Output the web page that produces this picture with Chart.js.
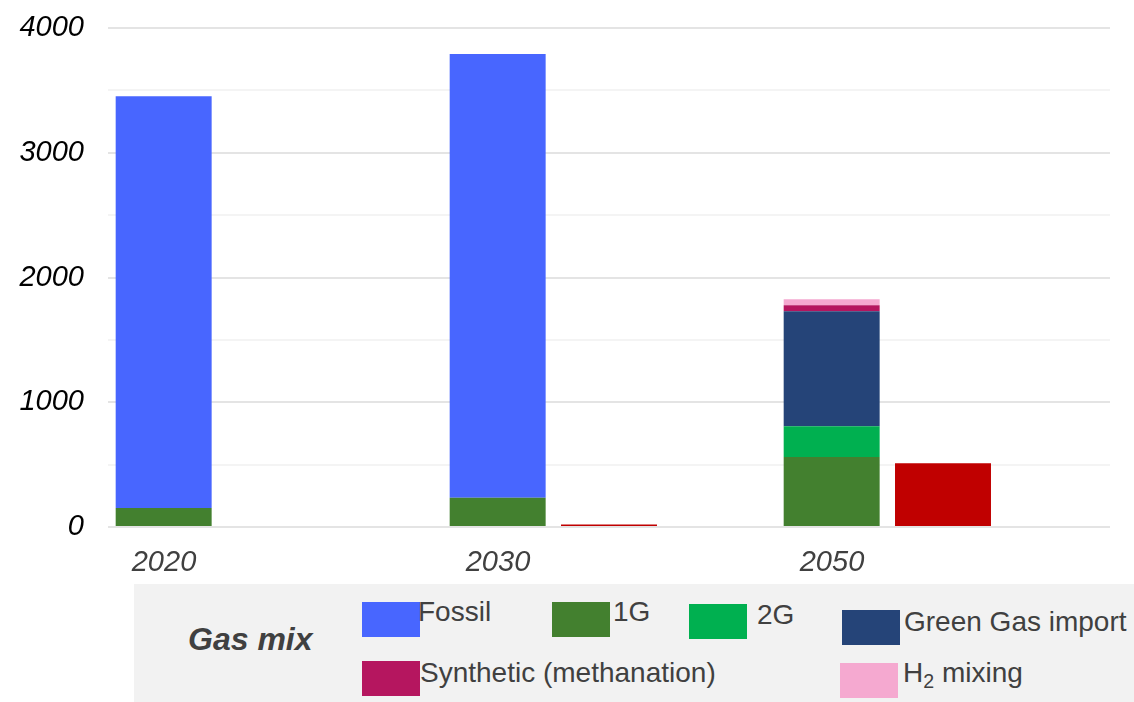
<!DOCTYPE html>
<html>
<head>
<meta charset="utf-8">
<script src="https://cdn.jsdelivr.net/npm/chart.js@4/dist/chart.umd.min.js"></script>
<style>
  html, body { margin: 0; padding: 0; background: #ffffff; }
  #wrap { position: relative; width: 1134px; height: 702px; overflow: hidden; font-family: "Liberation Sans", Arial, sans-serif; }
  #chart { position: absolute; left: 0; top: 0; }
  #legend { position: absolute; left: 134px; top: 584px; width: 1000px; height: 118px; background: #f2f2f2; }
  .sw { position: absolute; width: 58px; height: 35px; }
  .lb { position: absolute; font-size: 28px; line-height: 28px; color: #404040; white-space: nowrap; }
  .title { position: absolute; font-size: 32px; line-height: 32px; font-weight: bold; font-style: italic; color: #404040; white-space: nowrap; }
  sub { font-size: 0.7em; vertical-align: -0.3em; line-height: 0; }
</style>
</head>
<body>
<div id="wrap">
  <canvas id="chart" width="1134" height="702"></canvas>
  <div id="legend"></div>
</div>
<script>
// Years on the category axis
const categories = ['2020', '2030', '2050'];

// Gas mix components (TWh)
const firstGen   = [152, 235, 561];
const secondGen  = [0, 0, 246];
const greenImport = [0, 0, 922];
const synthetic  = [0, 0, 48];
const h2Mixing   = [0, 0, 48];
const fossil     = [3300, 3557, 0];

// Separate series shown beside the gas mix
const hydrogen   = [0, 20, 511];

// Y-axis range
const yMin = 0, yMax = 4000, yStep = 500, yLabelEvery = 1000;

const colors = {
  fossil: '#4866ff',
  firstGen: '#43802f',
  secondGen: '#00b050',
  greenImport: '#254478',
  synthetic: '#b5165f',
  h2Mixing: '#f5a9d0',
  hydrogen: '#c00000'
};

const fontFamily = '"Liberation Sans", Arial, sans-serif';

const mix = (label, data, color) => ({ label, data, backgroundColor: color, stack: 'mix', borderWidth: 0 });

const chart = new Chart(document.getElementById('chart'), {
  type: 'bar',
  data: {
    labels: categories,
    datasets: [
      mix('1G', firstGen, colors.firstGen),
      mix('2G', secondGen, colors.secondGen),
      mix('Green Gas import', greenImport, colors.greenImport),
      mix('Synthetic (methanation)', synthetic, colors.synthetic),
      mix('H2 mixing', h2Mixing, colors.h2Mixing),
      mix('Fossil', fossil, colors.fossil),
      { label: 'Hydrogen', data: hydrogen, backgroundColor: colors.hydrogen, stack: 'h2', borderWidth: 0 },
      // empty third slot in each year group
      { label: '', data: categories.map(() => 0), backgroundColor: 'rgba(0,0,0,0)', stack: 'spare', borderWidth: 0 }
    ]
  },
  options: {
    responsive: false,
    animation: false,
    categoryPercentage: 1,
    barPercentage: 0.862,
    layout: { padding: { top: 28, right: 24, left: 0, bottom: 0 } },
    plugins: { legend: { display: false }, tooltip: { enabled: false } },
    scales: {
      x: {
        stacked: true,
        grid: { display: false, drawTicks: false },
        border: { display: false },
        ticks: {
          color: '#404040',
          font: { family: fontFamily, size: 29, style: 'italic' },
          labelOffset: -111,
          padding: 19,
          maxRotation: 0
        },
        afterFit: s => { s.height = 175; }
      },
      y: {
        stacked: true,
        min: yMin,
        max: yMax,
        border: { display: false },
        grid: {
          drawTicks: false,
          lineWidth: 2,
          color: ctx => (ctx.tick && ctx.tick.value % yLabelEvery === 0) ? '#e4e4e4' : '#f4f4f4'
        },
        ticks: {
          stepSize: yStep,
          autoSkip: false,
          padding: 24,
          color: '#000000',
          font: { family: fontFamily, size: 29, style: 'italic' },
          callback: v => (v % yLabelEvery === 0 ? String(v) : '')
        },
        afterFit: s => { s.width = 108; s.paddingTop = 0; s.paddingBottom = 0; }
      }
    }
  }
});

// Legend panel
const legend = document.getElementById('legend');
const legendItems = [
  { text: 'Fossil', color: colors.fossil, sx: 362, sy: 602, tx: 418, ty: 598 },
  { text: '1G', color: colors.firstGen, sx: 552, sy: 602, tx: 613, ty: 598 },
  { text: '2G', color: colors.secondGen, sx: 689, sy: 604, tx: 757, ty: 601 },
  { text: 'Green Gas import', color: colors.greenImport, sx: 842, sy: 610, tx: 904, ty: 608 },
  { text: 'Synthetic (methanation)', color: colors.synthetic, sx: 362, sy: 661, tx: 420, ty: 659 },
  { html: 'H<sub>2</sub> mixing', color: colors.h2Mixing, sx: 840, sy: 663, tx: 903, ty: 659 }
];
const ox = 134, oy = 584;
const title = document.createElement('div');
title.className = 'title';
title.textContent = 'Gas mix';
title.style.left = (188 - ox) + 'px';
title.style.top = (623 - oy) + 'px';
legend.appendChild(title);
legendItems.forEach(it => {
  const sw = document.createElement('div');
  sw.className = 'sw';
  sw.style.background = it.color;
  sw.style.left = (it.sx - ox) + 'px';
  sw.style.top = (it.sy - oy) + 'px';
  legend.appendChild(sw);
  const lb = document.createElement('div');
  lb.className = 'lb';
  if (it.html) lb.innerHTML = it.html; else lb.textContent = it.text;
  lb.style.left = (it.tx - ox) + 'px';
  lb.style.top = (it.ty - oy) + 'px';
  legend.appendChild(lb);
});
</script>
</body>
</html>
